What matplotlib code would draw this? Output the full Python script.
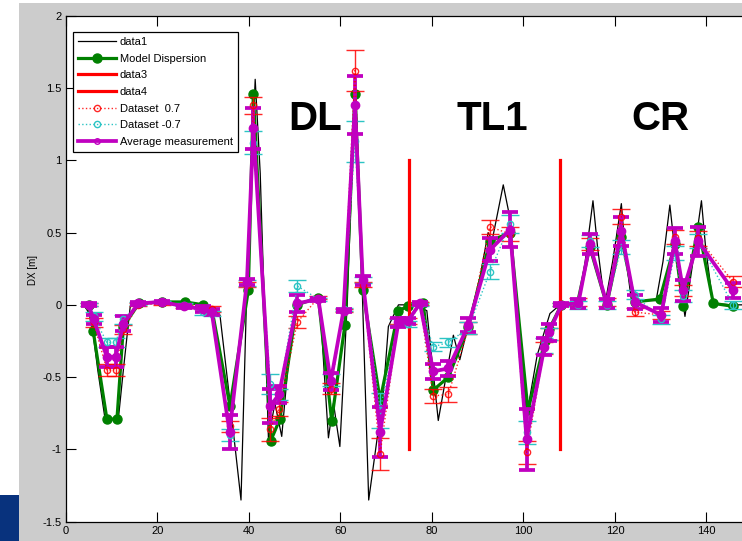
import numpy as np
import matplotlib
matplotlib.use('Agg')
import matplotlib.pyplot as plt
from matplotlib.patches import Rectangle
from matplotlib.lines import Line2D

# --- thin model curve (data1), vertices ---
s_curve = [4.0, 5.5, 7.0, 8.6, 11.5, 12.6, 14.1, 16.0, 21.0, 26.0, 30.0, 32.0,
           33.7, 36.0, 38.3, 39.6, 41.4, 42.5, 44.3, 45.7, 47.2, 48.5, 50.4,
           54.5, 55.5, 57.4, 58.5, 59.9, 61.5, 63.3, 64.5, 66.2, 69.4, 70.5,
           72.7, 76.0, 78.9, 81.4, 84.7, 86.1, 90.5, 92.3, 93.2, 95.6, 97.0,
           100.7, 103.0, 105.8, 108.0, 112.0, 113.5, 115.2, 116.2, 117.8,
           119.5, 121.4, 122.3, 123.6, 129.0, 130.5, 132.0, 133.0, 135.3,
           137.5, 138.9, 139.8, 141.4, 145.6, 150.0]
dx_curve = [0.0, -0.08, -0.45, -0.79, -0.79, -0.45, -0.01, 0.01, 0.02, 0.02, 0.0, -0.03,
            -0.07, -0.70, -1.35, 0.15, 1.56, 0.91, -0.93, -0.68, -0.91, -0.45, 0.0,
            0.04, 0.02, -0.92, -0.68, -0.98, 0.0, 1.57, 0.40, -1.35, -0.61, -0.15,
            0.0, 0.0, -0.04, -0.80, -0.21, -0.38, 0.19, 0.50, 0.45, 0.83, 0.61,
            -0.77, -0.35, -0.06, 0.0, 0.02, 0.30, 0.72, 0.40, 0.0,
            0.30, 0.70, 0.35, 0.03, 0.03, 0.30, 0.69, 0.40, -0.08,
            0.40, 0.72, 0.40, 0.01, 0.0, 0.0]

# --- model dispersion at BPMs ---
s_bpm = [5.0, 6.0, 9.0, 11.2, 12.6, 16.0, 21.0, 26.1, 30.1, 32.0, 35.9, 39.9,
         41.0, 44.8, 46.8, 50.5, 55.2, 58.1, 61.0, 63.2, 64.9, 68.7, 72.7, 74.8,
         78.1, 80.3, 83.6, 88.0, 92.7, 97.1, 101.0, 104.7, 105.6, 108.3, 111.8,
         114.5, 118.2, 121.4, 124.3, 129.8, 133.1, 134.9, 138.2, 141.5, 145.8]
dx_model = [0.0, -0.18, -0.79, -0.79, -0.15, 0.01, 0.02, 0.02, 0.0, -0.04, -0.70, 0.10,
            1.46, -0.94, -0.79, 0.0, 0.05, -0.80, -0.14, 1.46, 0.10, -0.66, -0.04, -0.01,
            0.01, -0.59, -0.50, -0.15, 0.44, 0.50, -0.73, -0.25, -0.17, 0.0, 0.01,
            0.40, 0.0, 0.47, 0.02, 0.04, 0.42, -0.01, 0.54, 0.01, -0.01]

# --- measurements ---
s_meas = [5.0, 6.1, 9.0, 10.9, 12.6, 15.9, 21.0, 25.8, 30.1, 31.9, 35.8, 39.6,
          41.0, 44.7, 46.6, 50.6, 55.2, 57.9, 60.7, 63.2, 64.9, 68.7, 72.7, 74.8,
          77.4, 80.3, 83.6, 88.0, 92.7, 97.1, 100.7, 104.6, 105.6, 108.3, 112.0,
          114.5, 118.2, 121.4, 124.3, 130.1, 133.1, 134.9, 138.2, 145.8]
dx_avg = [0.0, -0.10, -0.36, -0.36, -0.13, 0.01, 0.02, -0.01, -0.03, -0.05, -0.88, 0.16,
          1.22, -0.70, -0.62, 0.01, 0.04, -0.53, -0.04, 1.38, 0.17, -0.88, -0.12, -0.11,
          0.01, -0.46, -0.44, -0.14, 0.38, 0.52, -0.93, -0.29, -0.19, 0.0, 0.01,
          0.42, 0.01, 0.51, 0.02, -0.07, 0.44, 0.10, 0.44, 0.10]
err_avg = [0.01, 0.03, 0.07, 0.07, 0.05, 0.01, 0.01, 0.01, 0.02, 0.02, 0.12, 0.02,
           0.14, 0.12, 0.06, 0.06, 0.01, 0.06, 0.01, 0.20, 0.03, 0.17, 0.03, 0.02,
           0.01, 0.05, 0.05, 0.05, 0.08, 0.12, 0.21, 0.06, 0.06, 0.01, 0.03,
           0.07, 0.03, 0.10, 0.05, 0.05, 0.09, 0.07, 0.10, 0.05]
dx_p07 = [0.0, -0.12, -0.45, -0.45, -0.17, 0.0, 0.01, -0.01, -0.02, -0.03, -0.84, 0.14,
          1.38, -0.86, -0.72, -0.12, 0.05, -0.58, -0.04, 1.62, 0.14, -1.03, -0.11, -0.11,
          0.01, -0.63, -0.62, -0.16, 0.54, 0.49, -1.02, -0.30, -0.20, 0.0, 0.02,
          0.42, 0.02, 0.61, -0.05, -0.07, 0.47, 0.10, 0.46, 0.16]
err_p07 = [0.01, 0.03, 0.04, 0.04, 0.03, 0.01, 0.01, 0.01, 0.01, 0.02, 0.04, 0.02,
           0.06, 0.08, 0.05, 0.04, 0.01, 0.04, 0.01, 0.14, 0.02, 0.11, 0.02, 0.02,
           0.01, 0.05, 0.05, 0.04, 0.05, 0.05, 0.08, 0.04, 0.04, 0.01, 0.03,
           0.04, 0.03, 0.05, 0.03, 0.03, 0.05, 0.04, 0.05, 0.04]
dx_m07 = [0.0, -0.08, -0.26, -0.26, -0.10, 0.01, 0.02, 0.0, -0.05, -0.06, -0.90, 0.15,
          1.12, -0.55, -0.62, 0.13, 0.04, -0.52, -0.03, 1.13, 0.17, -0.73, -0.12, -0.13,
          0.0, -0.29, -0.26, -0.16, 0.23, 0.56, -0.88, -0.28, -0.20, 0.0, 0.0,
          0.44, 0.0, 0.40, 0.07, -0.10, 0.36, 0.06, 0.44, 0.0]
err_m07 = [0.01, 0.03, 0.03, 0.03, 0.03, 0.01, 0.01, 0.01, 0.02, 0.02, 0.04, 0.02,
           0.08, 0.07, 0.04, 0.04, 0.01, 0.04, 0.01, 0.14, 0.02, 0.12, 0.02, 0.02,
           0.01, 0.03, 0.03, 0.04, 0.05, 0.06, 0.08, 0.05, 0.04, 0.01, 0.03,
           0.04, 0.03, 0.05, 0.03, 0.03, 0.05, 0.04, 0.05, 0.03]

# section boundaries and labels
s_bounds = [75.0, 108.0]
sections = ['DL', 'TL1', 'CR']
s_sections = [54.5, 93.3, 130.0]

GREEN = '#008000'
MAG = '#c000c0'
CYAN = '#2cc4c4'

plt.rcParams['font.family'] = ['Liberation Sans', 'DejaVu Sans']

fig = plt.figure(figsize=(7.42, 5.41), dpi=100)
fig.patch.set_facecolor('white')
# slide background: grey panel + blue corner (behind the axes)
fig.patches.append(Rectangle((19 / 742, 0), 1, 538 / 541, transform=fig.transFigure,
                             facecolor='#cccccc', edgecolor='none', zorder=-10))
fig.patches.append(Rectangle((0, 0), 19 / 742, 46 / 541, transform=fig.transFigure,
                             facecolor='#08327d', edgecolor='none', zorder=-10))

ax = fig.add_axes([65.7 / 742, 19.3 / 541, 150 * 4.577 / 742, 506 / 541])
ax.set_facecolor('white')

ax.plot(s_curve, dx_curve, '-', color='k', lw=0.9)
ax.plot(s_bpm, dx_model, '-o', color=GREEN, lw=2.3, ms=6.5)
for sb in s_bounds:
    ax.plot([sb, sb], [-1, 1], '-', color='r', lw=2.3)

ax.errorbar(s_meas, dx_p07, yerr=err_p07, fmt='o:', color='r', mfc='none',
            ms=4.5, lw=1, elinewidth=1, capsize=6.5, capthick=1, alpha=0.85)
ax.errorbar(s_meas, dx_m07, yerr=err_m07, fmt='o:', color=CYAN, mfc='none',
            ms=4.5, lw=1, elinewidth=1, capsize=6.5, capthick=1)
ax.errorbar(s_meas, dx_avg, yerr=err_avg, fmt='o-', color=MAG, mfc=MAG,
            ms=6, lw=2.7, elinewidth=2.7, capsize=6, capthick=2.7)

for name, ss in zip(sections, s_sections):
    ax.text(ss, 1.207, name, ha='center', va='baseline', fontsize=29,
            fontweight='bold', color='k')

ax.set_xlim(0, 150)
ax.set_ylim(-1.5, 2)
ax.set_xticks(np.arange(0, 141, 20))
ax.set_yticks(np.arange(-1.5, 2.01, 0.5))
ax.set_yticklabels(['-1.5', '-1', '-0.5', '0', '0.5', '1', '1.5', '2'])
ax.tick_params(direction='in', length=7, width=0.8, top=True, right=False,
               labelsize=8, pad=3)
ax.spines['right'].set_visible(False)
for sp in ['left', 'bottom', 'top']:
    ax.spines[sp].set_linewidth(0.9)
ax.set_ylabel('DX [m]', fontsize=7)
ax.yaxis.set_label_coords(-0.040, 0.497)

# legend like MATLAB's: plain line + marker samples
handles = [
    Line2D([], [], color='k', lw=0.9),
    Line2D([], [], color=GREEN, lw=2.3, marker='o', ms=6.5),
    Line2D([], [], color='r', lw=2.3),
    Line2D([], [], color='r', lw=2.3),
    Line2D([], [], color='r', lw=1, ls=':', marker='o', mfc='none', ms=4.5, alpha=0.85),
    Line2D([], [], color=CYAN, lw=1, ls=':', marker='o', mfc='none', ms=4.5),
    Line2D([], [], color=MAG, lw=2.7, marker='o', mfc='none', ms=4),
]
labels = ['data1', 'Model Dispersion', 'data3', 'data4', 'Dataset  0.7',
          'Dataset -0.7', 'Average measurement']
leg = ax.legend(handles, labels, loc='upper left', bbox_to_anchor=(0.0106, 0.968),
                borderaxespad=0, fontsize=8, handlelength=3.4, handletextpad=0.35,
                labelspacing=0.6, borderpad=0.45, fancybox=False, framealpha=1,
                edgecolor='k')
leg.get_frame().set_linewidth(0.9)

fig.savefig('out.png', dpi=100, facecolor=fig.get_facecolor())
